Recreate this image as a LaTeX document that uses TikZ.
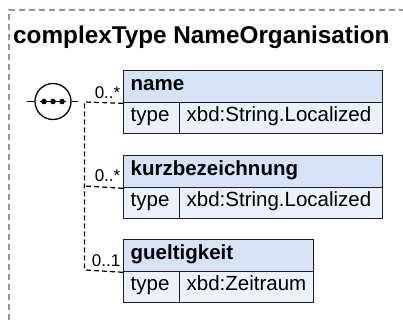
\documentclass[tikz,border=0pt]{standalone}
\usepackage{fontspec}
\setmainfont{Liberation Sans}
\definecolor{hdrfill}{RGB}{214,227,247}
\definecolor{rowfill}{RGB}{235,242,252}
\definecolor{boxc}{RGB}{30,30,30}
\definecolor{framec}{RGB}{150,150,150}
\begin{document}
\begin{tikzpicture}[x=1pt,y=-1pt,
  hdr/.style={draw=boxc, line width=1.3pt, fill=hdrfill, anchor=north west,
    minimum height=32pt, inner xsep=7pt, inner ysep=0pt,
    text height=12pt, text depth=4.8pt, align=left,
    font=\fontsize{20.5}{24}\selectfont\bfseries},
  cell/.style={draw=boxc, line width=1.3pt, fill=rowfill, anchor=north west,
    minimum height=31pt, inner xsep=7pt, inner ysep=0pt,
    text height=12pt, text depth=4.8pt, align=left,
    font=\fontsize{20.5}{24}\selectfont},
  conn/.style={black, line width=1.2pt, dash pattern=on 5pt off 3pt},
  occ/.style={anchor=base east, inner sep=0pt, font=\fontsize{17}{20}\selectfont}
]
\useasboundingbox (0,0) rectangle (403,320);
\clip (0,0) rectangle (403,320);
% outer frame (extends beyond the picture)
\draw[framec, line width=1.3pt, dash pattern=on 6pt off 4pt] (9,340) -- (9,10) -- (420,10);
\node[anchor=base west, inner sep=0pt, font=\fontsize{24.3}{28}\selectfont\bfseries] (title) at (13,44) {complexType NameOrganisation};

% sequence symbol
\node[circle, draw=black, line width=1.3pt, minimum size=36pt, inner sep=0pt, fill=white] (seq) at (53,101.5) {};
\draw[line width=1.3pt] (40,101.5) -- (66,101.5);
\fill (44,101.5) circle (2.8pt) (53,101.5) circle (2.8pt) (62,101.5) circle (2.8pt);
\coordinate (sin) at (27,101.5);
\coordinate (sout) at (78,101.5);
\draw[line width=1.3pt] (sin) -- (seq.west);
\draw[line width=1.3pt] (seq.east) -- (sout);

% element name
\node[hdr, text width=245pt] (nameH) at (123,70) {name};
\node[cell, text width=42pt] (nameT) at (123,102) {type};
\node[cell, text width=189pt] (nameV) at (179,102) {xbd:String.Localized};
% element kurzbezeichnung
\node[hdr, text width=245pt] (kurzH) at (123,155) {kurzbezeichnung};
\node[cell, text width=42pt] (kurzT) at (123,187) {type};
\node[cell, text width=189pt] (kurzV) at (179,187) {xbd:String.Localized};
% element gueltigkeit
\node[hdr, text width=176pt] (guelH) at (123,239) {gueltigkeit};
\node[cell, text width=42pt] (guelT) at (123,271) {type};
\node[cell, text width=120pt] (guelV) at (179,271) {xbd:Zeitraum};

% connectors
\coordinate (j1) at (84.5,102);
\coordinate (j2) at (84.5,186);
\coordinate (j3) at (84.5,270);
\draw[conn] (nameH.south west) -- (j1) -- (j3) -- (guelH.south west);
\draw[conn] (kurzH.south west) -- (j2);

\node[occ] (o1) at (120.5,98.3) {0..*};
\node[occ] (o2) at (120.5,182) {0..*};
\node[occ] (o3) at (120.5,266.5) {0..1};
\end{tikzpicture}
\end{document}
